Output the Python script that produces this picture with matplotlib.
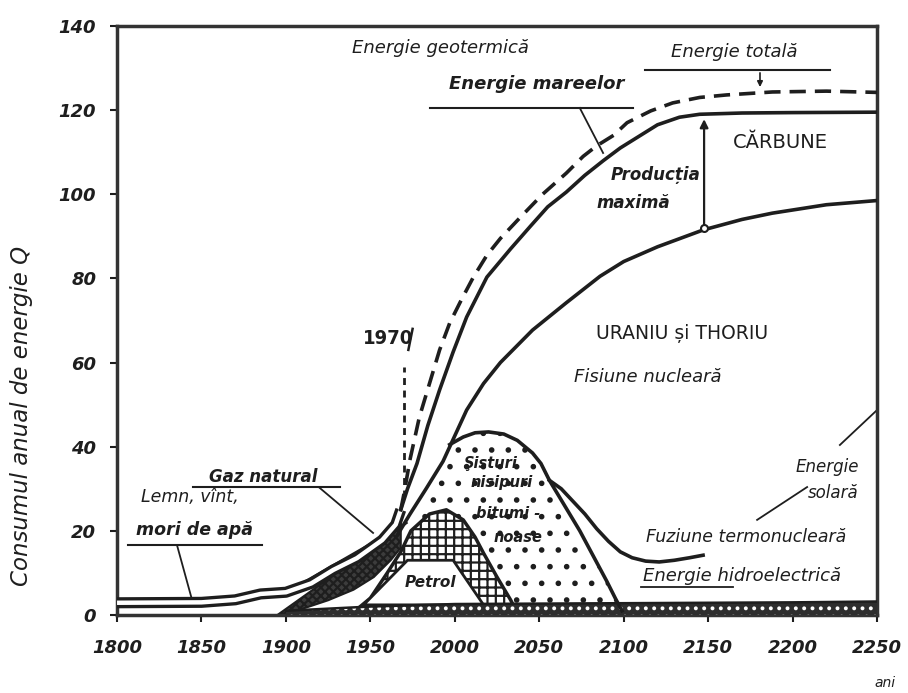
import matplotlib.pyplot as plt
from matplotlib.patches import Polygon

plt.rcParams['font.family'] = ['DejaVu Sans']
plt.rcParams['hatch.linewidth'] = 1.6

INK = '#1e1e1e'

# Energie totala (dashed)
total_years = [1968, 1970, 1973.5, 1979, 1985, 1991, 1997, 2004, 2011, 2019, 2027, 2039,
               2052, 2066, 2076, 2084, 2094, 2102, 2116, 2129, 2145, 2161, 2188, 2220, 2250]
total_values = [25, 29, 37, 47, 55, 63, 69.4, 75, 80.3, 85.5, 89.5, 94.6,
                100, 105, 109, 111.5, 114, 117, 119.8, 121.7, 123, 123.6, 124.3, 124.5, 124.2]

# Productia maxima (upper solid line, top of carbune)
coal_years = [1968, 1972, 1977.6, 1984, 1991, 1999, 2007, 2019, 2033, 2045, 2055, 2066,
              2077, 2088, 2098, 2108, 2120, 2133, 2145, 2170, 2200, 2250]
coal_values = [25, 30, 36, 45, 53.5, 62.5, 70.8, 80.3, 87, 92.5, 97, 100.5,
               104.5, 108, 111, 113.5, 116.5, 118.3, 119, 119.3, 119.4, 119.5]

# Uraniu si thoriu (lower solid line)
uran_years = [1966, 1973.5, 1983, 1993, 2007, 2017, 2027, 2046, 2066, 2086, 2100,
              2120, 2147, 2170, 2188, 2220, 2250]
uran_values = [19, 24, 30, 36.5, 48.7, 55, 60, 67.7, 74.2, 80.5, 84,
               87.5, 91.5, 94, 95.5, 97.5, 98.5]

# lemn / carbune istoric (hollow band)
hist_years = [1800, 1850, 1870, 1885, 1900, 1915, 1928, 1942, 1957, 1965, 1968]
hist_values = [2.9, 3.0, 3.6, 5.0, 5.4, 7.5, 10.7, 13.5, 17.8, 21.5, 25]

# gaz natural (lower edge of dark band)
gas_years = [1895, 1910, 1925, 1940, 1952, 1962, 1968]
gas_values = [0, 1.5, 3.5, 6, 9, 13, 16]

# petrol
oil_years = [1938, 1950, 1960, 1968, 1974, 1985, 1995, 2005, 2012, 2017, 2025, 2033, 2037]
oil_values = [0, 4, 10, 15, 20, 24, 25, 22.6, 18.5, 14.7, 9, 3.6, 0.5]
oil_core_years = [1946, 1972, 1999, 2017]
oil_core_values = [2.4, 13, 13, 2.4]

# sisturi, nisipuri bituminoase
shale_years = [1997, 2005, 2012, 2020, 2029, 2037, 2046, 2051, 2056, 2065, 2074, 2082, 2090, 2095, 2099]
shale_values = [40.5, 42.3, 43.3, 43.5, 43, 41.5, 38.5, 36, 32, 26, 20, 14, 8, 4, 1]

# fuziune termonucleara
fusion_years = [2056, 2063, 2070, 2077, 2084, 2091, 2098, 2105, 2113, 2121, 2130, 2139, 2147]
fusion_values = [32, 30, 27, 24, 20.5, 17.5, 15, 13.6, 12.8, 12.6, 13, 13.6, 14.2]

# energie hidroelectrica (bottom strip)
hydro_years = [1900, 1950, 2000, 2100, 2200, 2250]
hydro_values = [1.0, 2.0, 2.6, 2.8, 3.0, 3.2]

x_ticks = [1800, 1850, 1900, 1950, 2000, 2050, 2100, 2150, 2200, 2250]
y_ticks = [0, 20, 40, 60, 80, 100, 120, 140]

fig = plt.figure(figsize=(9.08, 6.93), dpi=100)
ax = fig.add_axes([0.1289, 0.1126, 0.837, 0.85])
ax.set_xlim(1800, 2250)
ax.set_ylim(0, 140)

# dotted region: bounded by uranium curve, shale bell and petrol hump
u_part = [(y, v) for y, v in zip(uran_years, uran_values) if 1974 <= y <= 1997]
o_part = [(y, v) for y, v in zip(oil_years, oil_values) if y >= 1974]
dots = u_part + list(zip(shale_years, shale_values)) + o_part[::-1]
ax.add_patch(Polygon(dots, closed=True, facecolor='white', edgecolor=INK,
                     hatch='.', lw=0, zorder=1))

# dark gas band
g_upper = [(y, v) for y, v in zip(hist_years, hist_values) if y >= 1895]
ax.add_patch(Polygon(g_upper + list(zip(gas_years, gas_values))[::-1] + [(1972, 22)],
                     closed=True, facecolor='#3c3c3c', edgecolor=INK, hatch='xxxx',
                     lw=1.5, zorder=2))

# petrol hump
ax.fill_between(oil_years, 0, oil_values, facecolor='white', edgecolor=INK,
                hatch='++', lw=2.5, zorder=3)
ax.add_patch(Polygon(list(zip(oil_core_years, oil_core_values)), closed=True,
                     facecolor='white', edgecolor=INK, lw=2, zorder=4))

# hydro strip: dark with light specks
ax.fill_between(hydro_years, 0, hydro_values, facecolor='#2e2e2e', edgecolor='white',
                hatch='..', lw=0, zorder=4)
ax.plot(hydro_years, hydro_values, color=INK, lw=1.8, zorder=4)

# wood band and historic coal (hollow double line)
ax.plot(hist_years, hist_values, color=INK, lw=8, solid_capstyle='butt', zorder=5)
ax.plot(hist_years, hist_values, color='white', lw=3.2, solid_capstyle='butt', zorder=5)

# main curves
ax.plot(coal_years, coal_values, color=INK, lw=2.6, zorder=6)
ax.plot(uran_years, uran_values, color=INK, lw=2.6, zorder=6)
ax.plot(total_years, total_values, color=INK, lw=2.6, ls=(0, (4.5, 2.5)), zorder=6)
ax.plot(shale_years, shale_values, color=INK, lw=2.6, zorder=6)
ax.plot(fusion_years, fusion_values, color=INK, lw=2.6, zorder=6)
ax.plot([1970, 1970], [28, 59], color=INK, lw=2, ls=(0, (2.5, 2)), zorder=6)

# productia maxima arrow
ax.annotate('', xy=(2147.6, 118.5), xytext=(2147.6, 91.5),
            arrowprops=dict(arrowstyle='-|>', color=INK, lw=1.6, mutation_scale=12), zorder=7)
ax.plot([2147.6], [92], 'o', ms=5, mfc='white', mec=INK, mew=1.5, zorder=7)

it = dict(style='italic', color=INK, ha='center', va='center', zorder=8)
ax.text(1991.3, 134.8, 'Energie geotermică', fontsize=13, **it)
ax.text(2048.7, 126.2, 'Energie mareelor', fontsize=13, fontweight='bold', **it)
ax.plot([1985.3, 2105.5], [120.5, 120.5], color=INK, lw=1.5)
ax.plot([2074, 2087.8], [120.5, 109.8], color=INK, lw=1.3)
ax.text(2165.3, 133.8, 'Energie totală', fontsize=13, **it)
ax.plot([2112.6, 2222.2], [129.5, 129.5], color=INK, lw=1.5)
ax.annotate('', xy=(2180.7, 124.8), xytext=(2180.7, 129.5),
            arrowprops=dict(arrowstyle='-|>', color=INK, lw=1.2, mutation_scale=8))

ax.text(2193, 112.2, 'CĂRBUNE', fontsize=14, color=INK, ha='center', va='center')
ax.text(2119, 104.6, 'Producția', fontsize=12, fontweight='bold', **it)
ax.text(2105.5, 97.9, 'maximă', fontsize=12, fontweight='bold', **it)
ax.text(2134.5, 67, 'URANIU și THORIU', fontsize=13.5, color=INK, ha='center', va='center')
ax.text(2114.4, 56.6, 'Fisiune nucleară', fontsize=13, **it)
ax.text(1960.5, 65.8, '1970', fontsize=14.5, fontweight='bold', color=INK,
        ha='center', va='center', fontstretch='condensed')
ax.plot([1972.5, 1975], [63, 68], color=INK, lw=1.8)

ax.text(2220.4, 35.2, 'Energie', fontsize=12, **it)
ax.text(2224, 29, 'solară', fontsize=12, **it)
ax.plot([2250, 2228], [48.7, 40.4], color=INK, lw=1.3)
ax.plot([2208.6, 2179], [30.4, 22.6], color=INK, lw=1.3)
ax.text(2172.5, 18.5, 'Fuziune termonucleară', fontsize=12.5, **it)
ax.text(2170, 9.2, 'Energie hidroelectrică', fontsize=13, **it)
ax.plot([2110.5, 2165], [6.7, 6.7], color=INK, lw=1.3)

ax.text(2021, 36, 'Şisturi', fontsize=10.5, fontweight='bold', **it)
ax.text(2028, 31.4, 'nisipuri', fontsize=10.5, fontweight='bold', **it)
ax.text(2031.5, 24.2, 'bitumi -', fontsize=10.5, fontweight='bold', **it)
ax.text(2037.4, 18.3, 'noase', fontsize=10.5, fontweight='bold', **it)
ax.text(1985.3, 7.6, 'Petrol', fontsize=11, fontweight='bold', **it)

ax.text(1886.4, 32.8, 'Gaz natural', fontsize=12, fontweight='bold', **it)
ax.plot([1845, 1932], [30.4, 30.4], color=INK, lw=1.5)
ax.plot([1920, 1951.6], [30.2, 19.5], color=INK, lw=1.3)
ax.text(1843.2, 28, 'Lemn, vînt,', fontsize=12.5, **it)
ax.text(1846, 20.2, 'mori de apă', fontsize=12.5, fontweight='bold', **it)
ax.plot([1806.5, 1885.8], [16.6, 16.6], color=INK, lw=1.5)
ax.plot([1835.5, 1844.4], [16.6, 3.6], color=INK, lw=1.3)

ax.text(2254.7, -16.2, 'ani', fontsize=10, clip_on=False, **it)

ax.set_xticks(x_ticks)
ax.set_yticks(y_ticks)
ax.set_xticklabels([str(t) for t in x_ticks], fontsize=13, style='italic',
                   fontweight='bold', color=INK)
ax.set_yticklabels([str(t) for t in y_ticks], fontsize=13, style='italic',
                   fontweight='bold', color=INK)
ax.tick_params(axis='x', length=5, width=1.5, pad=12, color=INK)
ax.tick_params(axis='y', length=5, width=1.5, pad=10, color=INK)
for s in ax.spines.values():
    s.set_linewidth(2.5)
    s.set_color('#333333')

fig.text(0.024, 0.40, 'Consumul anual de energie Q', rotation=90, fontsize=16.5,
         style='italic', color=INK, ha='center', va='center')

fig.savefig('out.png', dpi=100)
